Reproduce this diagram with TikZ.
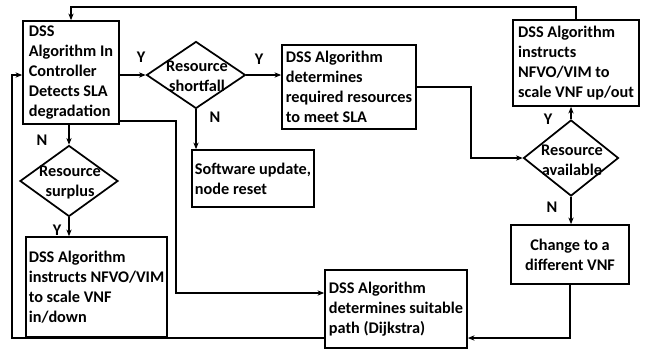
\documentclass[tikz,border=0pt]{standalone}
\usepackage{fontspec}
\setmainfont{Carlito}
\usetikzlibrary{shapes.geometric,arrows.meta}
\begin{document}
\begin{tikzpicture}[x=0.75pt,y=-0.75pt,
  every node/.style={font=\bfseries\fontsize{12.2pt}{15pt}\selectfont},
  box/.style={draw,line width=1.3pt,rectangle,align=left,inner sep=2pt},
  cbox/.style={box,align=center},
  dec/.style={draw,line width=1.3pt,diamond,inner sep=0pt},
  dtext/.style={align=center,inner sep=0pt},
  tag/.style={inner sep=0pt},
  link/.style={line width=1.3pt,-{Stealth[length=5pt,width=4pt]}},
]
\useasboundingbox (0,0) rectangle (649,350);
\fill[white] (0,0) rectangle (649,350);

% process boxes
\node[box,minimum width=72pt,minimum height=77.25pt] (A) at (71,72.5)
  {DSS\\Algorithm In\\Controller\\Detects SLA\\degradation};
\node[box,minimum width=100.5pt,minimum height=63pt] (R) at (349,87)
  {DSS Algorithm\\determines\\required resources\\to meet SLA};
\node[box,minimum width=94.5pt,minimum height=64.5pt] (U) at (576,63)
  {DSS Algorithm\\instructs\\NFVO/VIM to\\scale VNF up/out};
\node[cbox,minimum width=88.5pt,minimum height=44.25pt] (C) at (570,254.5)
  {Change to a\\different VNF};
\node[box,minimum width=106.5pt,minimum height=58.5pt] (D) at (396,309)
  {DSS Algorithm\\determines suitable\\path (Dijkstra)};
\node[box,minimum width=90pt,minimum height=42.75pt] (W) at (253,178.5)
  {Software update,\\node reset};
\node[box,minimum width=105.75pt,minimum height=75pt] (Q) at (96.5,287)
  {DSS Algorithm\\instructs NFVO/VIM\\to scale VNF\\in/down};

% decisions
\node[dec,minimum width=74.25pt,minimum height=50.25pt] (S) at (196,75) {};
\node[dtext] (St) at (197,76) {Resource\\shortfall};
\node[dec,minimum width=73.5pt,minimum height=53.25pt] (P) at (69,181) {};
\node[dtext] (Pt) at (70,183) {Resource\\surplus};
\node[dec,minimum width=71.25pt,minimum height=57pt] (V) at (571,158) {};
\node[dtext] (Vt) at (572,160) {Resource\\available};

% branch tags
\node[tag] (y1) at (141,57) {Y};
\node[tag] (y2) at (259,59) {Y};
\node[tag] (n1) at (215,117) {N};
\node[tag] (n2) at (42,140) {N};
\node[tag] (y3) at (57,230) {Y};
\node[tag] (y4) at (548,119) {Y};
\node[tag] (n3) at (552,207) {N};

% connectors
\coordinate (top) at (0,7);
\draw[link] (A.east |- S.west) -- (S.west);
\draw[link] (S.east) -- (R.west |- S.east);
\draw[link] (S.south) -- (W.north -| S.south);
\draw[link] (R.east) -| (471,158) -- (V.west);
\draw[link] (V.north) -- (U.south -| V.north);
\draw[link] (V.south) -- (C.north -| V.south);
\draw[link] (U.north) -- (U.north |- top) -| (A.north);
\draw[link] (C.south) |- (D.east |- 0,338);
\draw[link] (A.east |- 0,121) -| (176,293) -- (D.west |- 0,293);
\draw[link] (A.south -| P.north) -- (P.north);
\draw[link] (P.south) -- (Q.north -| P.south);
\draw[link] (D.west |- 0,338) -| (12,75) -- (A.west |- 0,75);
\end{tikzpicture}
\end{document}
